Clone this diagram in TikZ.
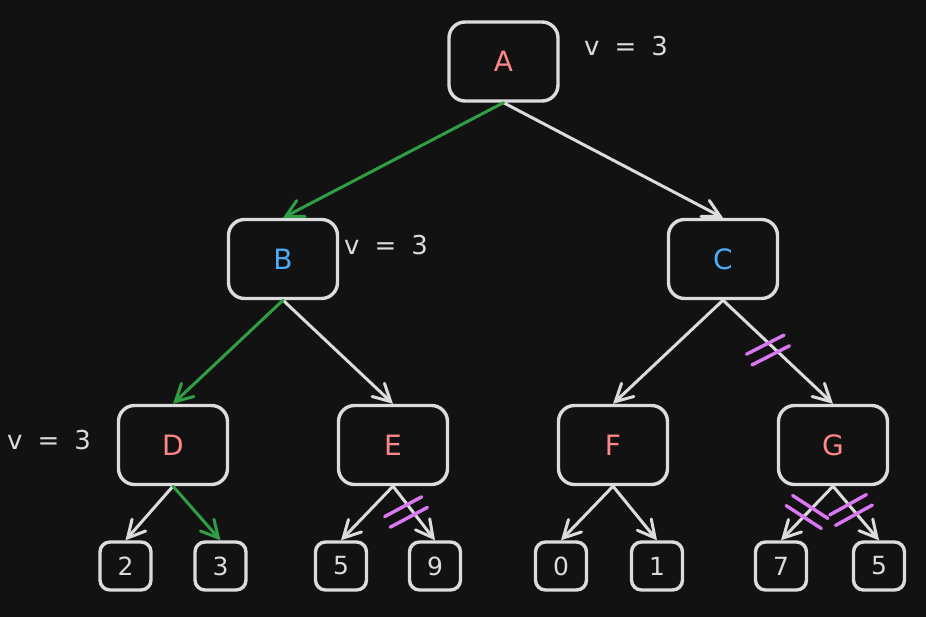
\documentclass[tikz,border=0pt]{standalone}
\usepackage{fontspec}
\setmainfont{DejaVu Sans}
\usetikzlibrary{arrows.meta}
\usepackage{xcolor}
\definecolor{bgdark}{HTML}{121212}
\definecolor{strokegray}{HTML}{DCDCDC}
\definecolor{pathgreen}{HTML}{2F9E44}
\definecolor{labelred}{HTML}{FF8787}
\definecolor{labelblue}{HTML}{4DABF7}
\definecolor{cutpink}{HTML}{DA77F2}

\tikzset{
  treenode/.style={draw=strokegray,line width=3.4pt,rounded corners=16pt,
    minimum width=109pt,minimum height=79pt,font=\fontsize{28}{32}\selectfont},
  leafnode/.style={draw=strokegray,line width=3.4pt,rounded corners=10pt,
    minimum width=51pt,minimum height=48pt,text=strokegray,
    font=\fontsize{25}{30}\selectfont},
  edge/.style={draw=strokegray,line width=3pt,line cap=round,
    -{Straight Barb[length=17pt,width=18pt,line cap=round]}},
  goodedge/.style={edge,draw=pathgreen},
  cut/.style={draw=cutpink,line width=3.4pt,line cap=round},
  vlabel/.style={text=strokegray,font=\fontsize{26}{28}\selectfont}
}

\begin{document}
\begin{tikzpicture}[x=1pt,y=-1pt]
\fill[bgdark] (0,0) rectangle (926,617);

% inner nodes
\foreach \n/\x/\y/\c in {A/503.5/61.5/labelred,B/283/259/labelblue,C/723/259/labelblue,
  D/173/445/labelred,E/393/445/labelred,F/613/445/labelred,G/833/445/labelred}{
  \node[treenode,text=\c] (\n) at (\x,\y) {\n};
}

% leaves
\foreach \n/\x/\v in {dl/125.5/2,dr/220.5/3,el/341/5,er/435/9,
  fl/561/0,fr/657/1,gl/781/7,gr/879/5}{
  \node[leafnode] (\n) at (\x,566) {\v};
}

\foreach \p/\q in {A/C,B/E,C/F,C/G,D/dl,E/el,E/er,F/fl,F/fr,G/gl,G/gr}{
  \draw[edge] (\p.south) -- (\q.north);
}
\foreach \p/\q in {A/B,B/D,D/dr}{
  \draw[goodedge] (\p.south) -- (\q.north);
}

% pruned branches
\foreach \cx/\cy/\ang in {768/350/27,406/512/28,807/512/-33,851/510/29}{
  \begin{scope}[shift={(\cx,\cy)},rotate=\ang]
    \draw[cut] (-21,-6) -- (21,-6) (-21,6) -- (21,6);
  \end{scope}
}

\node[vlabel] (vA) at (626,46) {v\hspace{15pt}=\hspace{15pt}3};
\node[vlabel] (vB) at (386,245) {v\hspace{15pt}=\hspace{15pt}3};
\node[vlabel] (vD) at (49,440) {v\hspace{15pt}=\hspace{15pt}3};
\end{tikzpicture}
\end{document}
